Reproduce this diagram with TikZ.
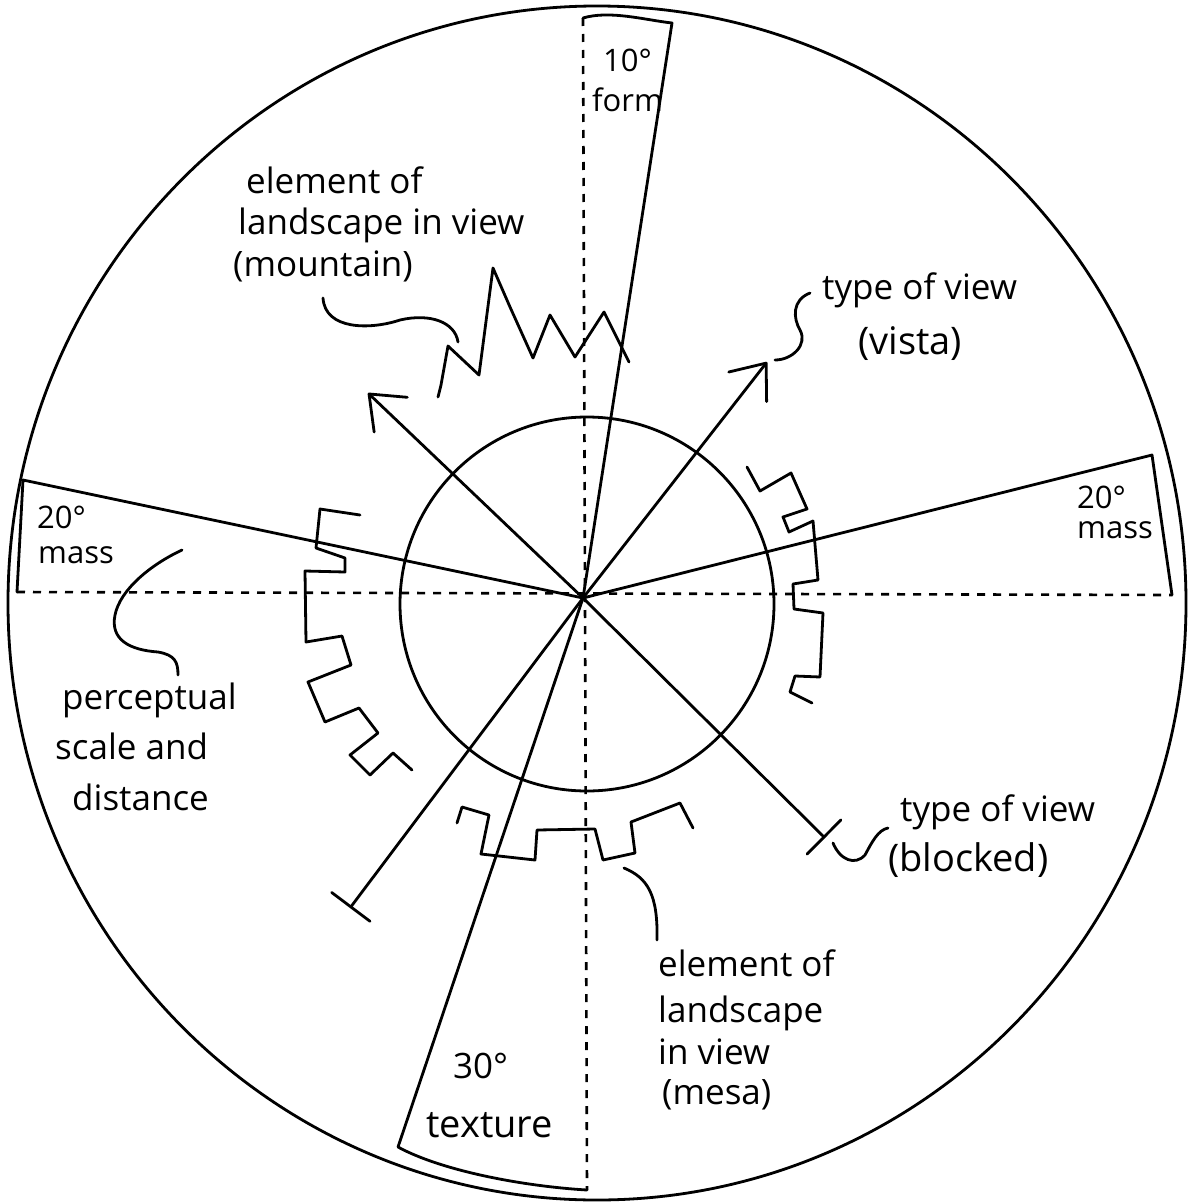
\documentclass[tikz,border=0pt]{standalone}
\usepackage{fontspec}
\setmainfont{Open Sans}
\usetikzlibrary{arrows.meta}
\begin{document}
\begin{tikzpicture}[x=1pt,y=-1pt,
  ink/.style={line width=2.8pt, line join=round, line cap=round},
  dashline/.style={line width=2.6pt, dash pattern=on 8pt off 8pt},
  lbl/.style={font=\fontsize{35}{40}\selectfont, inner sep=0pt, anchor=base west},
  small/.style={font=\fontsize{31}{36}\selectfont},
  big/.style={font=\fontsize{38}{42}\selectfont},
  barbtip/.style={-{Straight Barb[length=30pt,width=48pt,round]}},
  bartip/.style={-{Bar[width=48pt,round]}}
]
\useasboundingbox (0,0) rectangle (1187,1204);
\fill[white] (0,0) rectangle (1187,1204);
\coordinate (C) at (583,598);
% outer and inner circles
\draw[ink] (597,603) ellipse [x radius=589, y radius=597];
\draw[ink] (587,604) circle [radius=187];
% dashed axes
\coordinate (Vt) at (583,18);
\coordinate (Vb) at (587,1190);
\coordinate (Hl) at (17,592);
\coordinate (Hr) at (1172,595);
\draw[dashline] (Vt) -- (Vb);
\draw[dashline] (Hl) -- (Hr);
% wedges
\coordinate (Ftr) at (672,23);
\draw[ink] (Vt) .. controls (610,10) and (645,20) .. (Ftr) -- (C);
\coordinate (Ltl) at (23,480);
\draw[ink] (C) -- (Ltl) -- (Hl);
\coordinate (Rtr) at (1152,455);
\draw[ink] (C) -- (Rtr) -- (Hr);
\coordinate (Tbl) at (398,1147);
\draw[ink] (C) -- (Tbl) .. controls (440,1170) and (520,1186) .. (Vb);
% radial arrows
\coordinate (Amtn) at (368,393);
\coordinate (Avis) at (767,362);
\coordinate (Ablk) at (825,838);
\coordinate (Asw) at (350,908);
\draw[ink,barbtip] (C) -- (Amtn);
\draw[ink,barbtip] (C) -- (Avis);
\draw[ink,bartip] (C) -- (Ablk);
\draw[ink,bartip] (C) -- (Asw);
% mountain
\draw[ink] (438,397) -- (441,385) -- (448,346) -- (479,375) -- (493,268) -- (510,307)
  -- (533,358) -- (550,315) -- (575,357) -- (604,312) -- (629,362);
% gears
\draw[ink] (360,515) -- (320,509) -- (316,548) -- (345,558) -- (345,572) -- (305,571)
  -- (306,642) -- (342,636) -- (351,665) -- (308,682) -- (325,722) -- (359,708)
  -- (378,733) -- (350,755) -- (370,775) -- (393,753) -- (412,770);
\draw[ink] (747,467) -- (760,491) -- (791,473) -- (807,509) -- (783,517) -- (789,532)
  -- (813,521) -- (818,580) -- (793,584) -- (794,609) -- (823,613) -- (820,677)
  -- (795,676) -- (790,692) -- (812,703);
\draw[ink] (457,823) -- (462,807) -- (489,815) -- (481,854) -- (535,860) -- (537,830)
  -- (595,829) -- (603,860) -- (635,853) -- (631,822) -- (680,803) -- (693,828);
% pointer curves
\draw[ink] (323,298) .. controls (325,330) and (370,330) .. (400,320)
  .. controls (430,313) and (455,322) .. (458,342);
\draw[ink] (810,293) .. controls (792,300) and (793,318) .. (800,330)
  .. controls (808,345) and (792,360) .. (775,360);
\draw[ink] (833,843) .. controls (840,860) and (855,866) .. (865,855)
  .. controls (872,842) and (878,830) .. (888,828);
\draw[ink] (182,550) .. controls (150,565) and (120,590) .. (115,615)
  .. controls (110,640) and (130,650) .. (158,652) .. controls (175,655) and (178,662) .. (178,675);
\draw[ink] (624,868) .. controls (648,878) and (658,895) .. (657,940);
% labels
\node[lbl,small] (tform1) at (603,72) {10°};
\node[lbl,small] (tform2) at (592,112) {form};
\node[lbl,small] (tml1) at (37,528) {20°};
\node[lbl,small] (tml2) at (38,563) {mass};
\node[lbl,small] (tmr1) at (1077,508) {20°};
\node[lbl,small] (tmr2) at (1077,538) {mass};
\node[lbl] (ttx1) at (453,1078) {30°};
\node[lbl,big] (ttx2) at (426,1137) {texture};
\node[lbl] (tmt1) at (246,193) {element of};
\node[lbl] (tmt2) at (238,234) {landscape in view};
\node[lbl] (tmt3) at (233,276) {(mountain)};
\node[lbl] (tvi1) at (822,299) {type of view};
\node[lbl,big] (tvi2) at (858,354) {(vista)};
\node[lbl] (tbl1) at (900,821) {type of view};
\node[lbl,big] (tbl2) at (888,871) {(blocked)};
\node[lbl] (tps1) at (62,709) {perceptual};
\node[lbl] (tps2) at (55,759) {scale and};
\node[lbl] (tps3) at (72,810) {distance};
\node[lbl] (tms1) at (658,976) {element of};
\node[lbl] (tms2) at (658,1022) {landscape};
\node[lbl] (tms3) at (658,1064) {in view};
\node[lbl] (tms4) at (662,1104) {(mesa)};
\end{tikzpicture}
\end{document}
